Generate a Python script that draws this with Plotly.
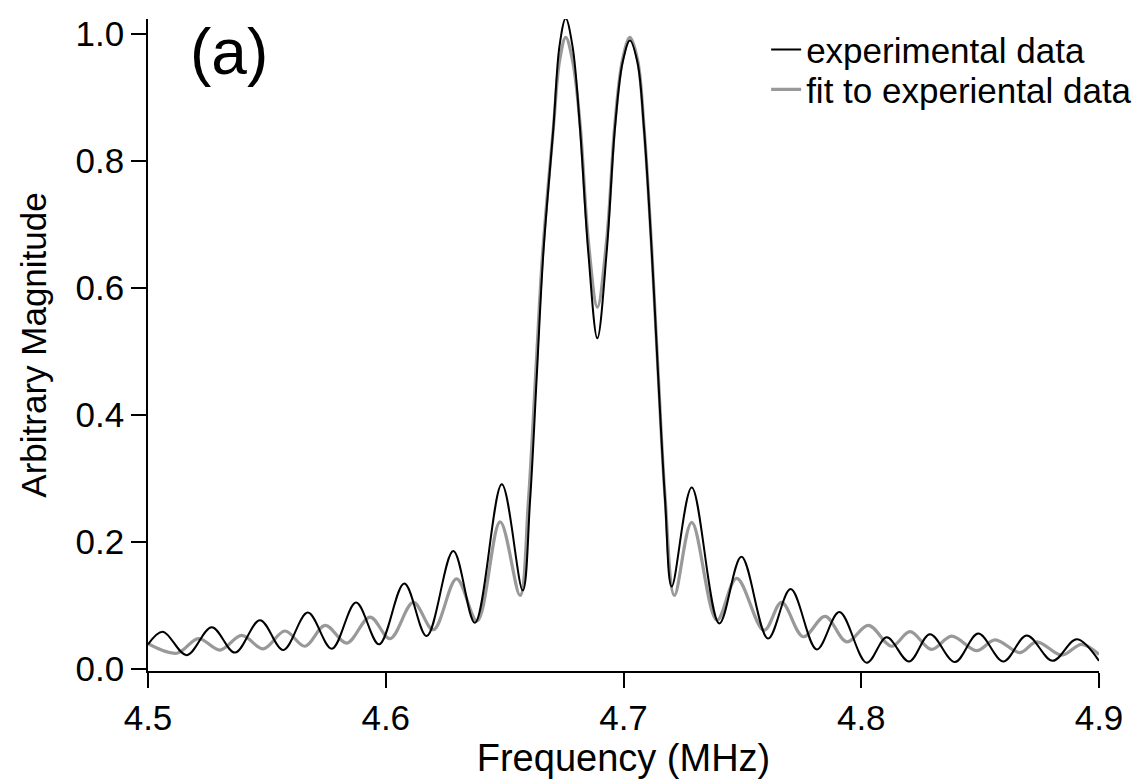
import plotly.graph_objects as go

exp_freq = [4.5000, 4.5062, 4.5163, 4.5268, 4.5366, 4.5471, 4.5569, 4.5672, 4.5773, 4.5875,
            4.5972, 4.6078, 4.6172, 4.6284, 4.6375, 4.6488, 4.6576, 4.6607, 4.6635, 4.6663,
            4.6705, 4.6731, 4.6757, 4.6786, 4.6817, 4.6852, 4.6890, 4.6929, 4.6964, 4.6996,
            4.7027, 4.7059, 4.7086, 4.7119, 4.7146, 4.7175, 4.7203, 4.7287, 4.7403, 4.7496,
            4.7608, 4.7703, 4.7813, 4.7908, 4.8023, 4.8107, 4.8201, 4.8289, 4.8394, 4.8492,
            4.8598, 4.8696, 4.8805, 4.8906, 4.9000]
exp_mag = [0.039, 0.059, 0.022, 0.066, 0.026, 0.077, 0.030, 0.089, 0.032, 0.105,
           0.039, 0.135, 0.052, 0.186, 0.073, 0.291, 0.124, 0.265, 0.460, 0.656,
           0.852, 0.982, 1.025, 0.980, 0.852, 0.656, 0.521, 0.656, 0.852, 0.955,
           0.990, 0.955, 0.852, 0.656, 0.460, 0.265, 0.130, 0.286, 0.072, 0.177,
           0.048, 0.126, 0.031, 0.090, 0.010, 0.050, 0.012, 0.055, 0.011, 0.056,
           0.012, 0.053, 0.013, 0.047, 0.013]

# Fit to the experimental data (grey)
fit_freq = [4.5000, 4.5121, 4.5212, 4.5303, 4.5394, 4.5485, 4.5576, 4.5660, 4.5745, 4.5836,
            4.5934, 4.6018, 4.6116, 4.6200, 4.6298, 4.6384, 4.6481, 4.6565, 4.6600, 4.6630,
            4.6660, 4.6705, 4.6731, 4.6757, 4.6786, 4.6817, 4.6852, 4.6890, 4.6929, 4.6964,
            4.6996, 4.7027, 4.7059, 4.7086, 4.7119, 4.7146, 4.7175, 4.7214, 4.7287, 4.7393,
            4.7476, 4.7591, 4.7665, 4.7756, 4.7848, 4.7939, 4.8030, 4.8128, 4.8205, 4.8296,
            4.8380, 4.8486, 4.8563, 4.8668, 4.8738, 4.8843, 4.8927, 4.9000]
fit_mag = [0.040, 0.025, 0.048, 0.030, 0.053, 0.032, 0.060, 0.036, 0.069, 0.041,
           0.082, 0.048, 0.105, 0.062, 0.142, 0.076, 0.232, 0.116, 0.265, 0.460,
           0.656, 0.852, 0.958, 0.995, 0.958, 0.860, 0.675, 0.570, 0.675, 0.860,
           0.960, 0.995, 0.960, 0.855, 0.660, 0.465, 0.270, 0.116, 0.231, 0.077,
           0.143, 0.061, 0.105, 0.051, 0.083, 0.043, 0.069, 0.036, 0.059, 0.031,
           0.052, 0.029, 0.046, 0.026, 0.043, 0.022, 0.039, 0.023]

x_ticks = [4.5, 4.6, 4.7, 4.8, 4.9]
y_ticks = [0.0, 0.2, 0.4, 0.6, 0.8, 1.0]

FONT = "Liberation Sans, Arial, Helvetica, sans-serif"

fig = go.Figure()
fig.add_trace(go.Scatter(
    x=fit_freq, y=fit_mag, mode="lines", name="fit to experiental data",
    line=dict(color="#999999", width=3.2, shape="spline", smoothing=1.0),
    legend="legend2",
))
fig.add_trace(go.Scatter(
    x=exp_freq, y=exp_mag, mode="lines", name="experimental data",
    line=dict(color="#000000", width=2, shape="spline", smoothing=1.0),
    legend="legend",
))

legend_common = dict(
    xanchor="left", yanchor="top", bgcolor="rgba(0,0,0,0)",
    font=dict(size=35, family=FONT, color="black"), borderwidth=0,
)

fig.update_layout(
    width=1146, height=783,
    margin=dict(l=140, r=55, t=7, b=120),
    paper_bgcolor="white", plot_bgcolor="white",
    font=dict(family=FONT, size=35, color="black"),
    showlegend=True,
    legend=dict(x=0.650, y=0.998, **legend_common),
    legend2=dict(x=0.650, y=0.937, **legend_common),
    annotations=[dict(
        text="(a)", xref="paper", yref="paper", x=0.042, y=1.008,
        xanchor="left", yanchor="top", showarrow=False,
        font=dict(size=64, family=FONT, color="black"),
    )],
)
fig.update_xaxes(
    range=[4.5, 4.9], tickvals=x_ticks, tickformat=".1f",
    showgrid=False, zeroline=False, showline=True, linecolor="black", linewidth=1.5,
    ticks="outside", ticklen=15, tickwidth=1.5, tickcolor="black",
    title=dict(text="Frequency (MHz)", standoff=8, font=dict(size=38)),
    tickfont=dict(size=35),
)
fig.update_yaxes(
    range=[-0.003, 1.024], tickvals=y_ticks, tickformat=".1f",
    showgrid=False, zeroline=False, showline=True, linecolor="black", linewidth=1.5,
    ticks="outside", ticklen=15, tickwidth=1.5, tickcolor="black",
    title=dict(text="Arbitrary Magnitude", standoff=18, font=dict(size=35)),
    tickfont=dict(size=35),
)

fig.write_html("out.html")
